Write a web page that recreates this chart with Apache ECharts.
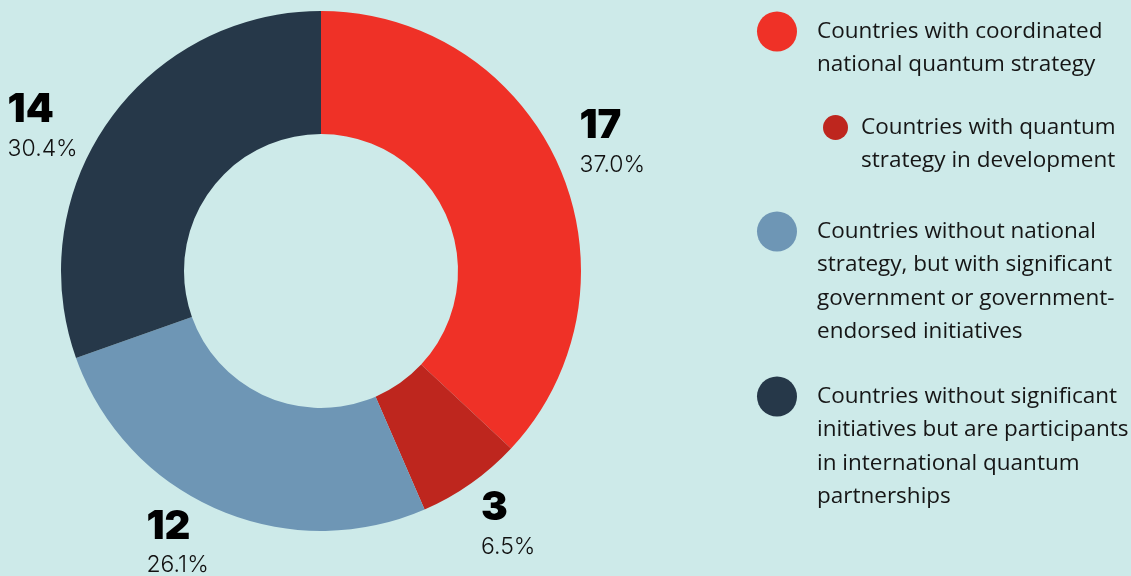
<!DOCTYPE html>
<html>
<head>
<meta charset="utf-8">
<script src="https://cdn.jsdelivr.net/npm/echarts@6/dist/echarts.min.js"></script>
<style>
html,body{margin:0;padding:0;background:#CDEAE9;}
#chart{width:1131px;height:576px;}
</style>
</head>
<body>
<div id="chart"></div>
<script>
const categories = [
  'Countries with coordinated national quantum strategy',
  'Countries with quantum strategy in development',
  'Countries without national strategy, but with significant government or government-endorsed initiatives',
  'Countries without significant initiatives but are participants in international quantum partnerships'
];
const legendLabels = [
  'Countries with coordinated\nnational quantum strategy',
  'Countries with quantum\nstrategy in development',
  'Countries without national\nstrategy, but with significant\ngovernment or government-\nendorsed initiatives',
  'Countries without significant\ninitiatives but are participants\nin international quantum\npartnerships'
];
const values = [17, 3, 12, 14];
const colors = ['#EF3127', '#BE261E', '#6E96B5', '#263849'];

// label offsets relative to slice outer-edge midpoint (style only)
const labelOffsets = [[20, -64], [10, 2], [-71, -6], [-101, -34]];

const chart = echarts.init(document.getElementById('chart'), null, {renderer: 'canvas'});

const LH = 33.5;
function legendFor(i, left, centerY, size, padLeft) {
  const lines = legendLabels[i].split('\n').length;
  const H = (2 * lines - 1) * LH;
  return {
    show: true,
    data: [{name: categories[i], icon: 'circle', itemStyle: {color: colors[i]}}],
    left: left, top: centerY - H / 2,
    padding: 0,
    itemWidth: size, itemHeight: size,
    selectedMode: false,
    formatter: function (name) {
      const k = categories.indexOf(name);
      const n = legendLabels[k].split('\n').length;
      // leading blank lines keep the first text line level with the marker
      return '\n'.repeat(n - 1) + legendLabels[k];
    },
    textStyle: {
      fontFamily: 'Open Sans', fontSize: 22.5, color: '#161616', lineHeight: LH,
      padding: [0, 0, 0, padLeft]
    }
  };
}

const option = {
  backgroundColor: '#CDEAE9',
  animation: false,
  legend: [
    legendFor(0, 757, 31.5, 40, 15),
    legendFor(1, 823, 127.5, 25, 8),
    legendFor(2, 757, 231.5, 40, 15),
    legendFor(3, 757, 396.5, 40, 15)
  ],
  series: [{
    type: 'pie',
    center: [321, 271],
    radius: [137, 260],
    startAngle: 90,
    clockwise: true,
    percentPrecision: 2,
    emphasis: {disabled: true},
    itemStyle: {borderWidth: 0},
    label: {
      show: true,
      position: 'outside',
      formatter: function (p) {
        return '{n|' + p.value + '}\n{p|' + p.percent.toFixed(1) + '%}';
      },
      rich: {
        n: {fontFamily: 'Inter', fontSize: 40, fontWeight: 900, color: '#000', lineHeight: 46},
        p: {fontFamily: 'Inter', fontSize: 23, fontWeight: 300, color: '#111', lineHeight: 32}
      }
    },
    labelLine: {show: true, length: 0, length2: 0, lineStyle: {opacity: 0, width: 0}},
    labelLayout: function (params) {
      const i = params.dataIndex;
      const pts = params.labelLinePoints;
      const p0 = pts ? pts[0] : [params.labelRect.x, params.labelRect.y];
      return {
        x: p0[0] + labelOffsets[i][0],
        y: p0[1] + labelOffsets[i][1],
        align: 'left',
        verticalAlign: 'top'
      };
    },
    data: categories.map(function (c, i) {
      return {name: c, value: values[i], itemStyle: {color: colors[i]}};
    })
  }]
};
chart.setOption(option);
</script>
</body>
</html>
